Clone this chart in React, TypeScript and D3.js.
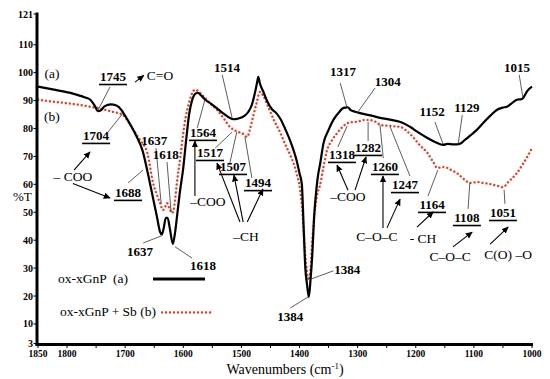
import React from "react";
import * as d3 from "d3";

const W = 550;
const H = 379;

const xTickLabels = [1850, 1800, 1700, 1600, 1500, 1400, 1300, 1200, 1100, 1000];
const xMinorTicks = [1750, 1650, 1550, 1450, 1350, 1250, 1150, 1050];
const yTickLabels = [3, 10, 20, 30, 40, 50, 60, 70, 80, 90, 100, 110, 121];

// ox-xGnP (a): [wavenumber, %T]
const seriesA: [number, number][] = [
  [1850, 95], [1820, 93.8], [1790, 92.5], [1770, 91.2], [1760, 90.3], [1752, 88], [1747, 86.2],
  [1742, 86.5], [1735, 88], [1725, 88.6], [1715, 88.2], [1706, 86.5], [1700, 84.5], [1690, 81],
  [1680, 77], [1670, 72], [1660, 63], [1652, 55], [1645, 48], [1640, 43], [1637, 42], [1634, 44],
  [1630, 48], [1627, 48], [1623, 44], [1618, 38.7], [1614, 43], [1610, 50], [1606, 57], [1600, 66],
  [1595, 76], [1590, 85], [1585, 90], [1579, 92.5], [1575, 92.8], [1570, 92], [1562, 90.3],
  [1552, 88.8], [1542, 87.2], [1530, 85.2], [1520, 83.8], [1514, 83.3], [1505, 83.6], [1495, 84.5],
  [1488, 86], [1482, 88.5], [1477, 92.5], [1473, 96.5], [1471, 98.5], [1468, 96], [1463, 93.5],
  [1455, 89.5], [1447, 86.8], [1440, 85.5], [1433, 83.5], [1425, 80], [1415, 75], [1405, 68.5],
  [1400, 64], [1396, 60], [1393, 45], [1390, 30], [1387, 24], [1384, 19.7], [1381, 26], [1378, 35],
  [1375, 48], [1372, 56], [1369, 62], [1364, 68], [1359, 74.5], [1350, 79.5], [1342, 83],
  [1332, 85.8], [1325, 87.3], [1320, 87.5], [1317, 87.6], [1312, 86.6], [1304, 86], [1296, 85.5],
  [1280, 84.8], [1261, 83.8], [1240, 83], [1222, 82], [1210, 80.6], [1195, 78.5], [1180, 76.6],
  [1165, 75], [1153, 74.1], [1145, 74.5], [1135, 74.3], [1129, 74.3], [1124, 74.5], [1115, 76],
  [1106, 77.5], [1095, 79.5], [1084, 82], [1072, 84.5], [1060, 86.7], [1050, 87.5], [1043, 87.8],
  [1035, 89], [1026, 90.3], [1018, 90.5], [1015, 91], [1008, 93.5], [1000, 95],
];

// ox-xGnP + Sb (b)
const seriesB: [number, number][] = [
  [1850, 90.3], [1820, 89.5], [1790, 88.8], [1760, 87.8], [1740, 87], [1726, 86.2], [1712, 85.5],
  [1704, 84.9], [1695, 82.5], [1686, 79.5], [1675, 76], [1662, 71.3], [1652, 60.5], [1645, 56],
  [1640, 53.3], [1635, 50.8], [1631, 52], [1628, 53.3], [1624, 51.5], [1619, 49.7], [1615, 53],
  [1611, 60.5], [1605, 70], [1600, 78.4], [1596, 84], [1592, 87.8], [1586, 92], [1580, 93.9],
  [1575, 93.5], [1569, 92.3], [1563, 91], [1553, 88.8], [1542, 86.7], [1530, 83.5], [1520, 80.6],
  [1513, 79.5], [1506, 78.8], [1498, 78.2], [1490, 77], [1485, 80], [1480, 84.2], [1474, 89],
  [1468, 93.1], [1462, 91.5], [1454, 87.8], [1444, 83], [1433, 78.4], [1425, 74.5], [1415, 70],
  [1405, 64], [1399, 58], [1395, 50], [1392, 40], [1389, 32], [1386, 27], [1384, 25.7], [1381, 30],
  [1378, 40], [1374, 50], [1370, 56], [1365, 59.5], [1359, 66], [1353, 72], [1345, 75.5],
  [1335, 78.4], [1322, 81.3], [1310, 82.3], [1301, 82.4], [1290, 83], [1279, 83], [1270, 82.5],
  [1261, 81.3], [1250, 81], [1238, 80.8], [1227, 80.6], [1215, 79], [1205, 77], [1193, 74],
  [1180, 71.3], [1170, 68], [1163, 65.9], [1154, 66.2], [1146, 65.9], [1138, 65], [1129, 64],
  [1118, 62], [1106, 60.5], [1095, 60.8], [1084, 60.5], [1070, 60], [1060, 59.5], [1050, 59],
  [1040, 61], [1026, 64], [1015, 67.5], [1005, 71], [1000, 73],
];

// peak labels (bold numbers): text, wavenumber, %T (baseline), underlined
const peakLabels: { text: string; wn: number; t: number; u: boolean }[] = [
  { text: "1745", wn: 1721, t: 97.0, u: true },
  { text: "1704", wn: 1750, t: 75.9, u: true },
  { text: "1688", wn: 1695, t: 55.5, u: true },
  { text: "1637", wn: 1650, t: 74.1, u: false },
  { text: "1618", wn: 1630, t: 69.1, u: false },
  { text: "1637", wn: 1674.5, t: 34.3, u: false },
  { text: "1618", wn: 1566, t: 29.3, u: false },
  { text: "1564", wn: 1566, t: 77.0, u: true },
  { text: "1517", wn: 1554, t: 69.8, u: true },
  { text: "1507", wn: 1514.5, t: 64.8, u: true },
  { text: "1494", wn: 1471.5, t: 59.0, u: true },
  { text: "1514", wn: 1525, t: 100.2, u: false },
  { text: "1317", wn: 1325, t: 98.8, u: false },
  { text: "1304", wn: 1248, t: 95.2, u: false },
  { text: "1152", wn: 1172, t: 84.5, u: false },
  { text: "1129", wn: 1112, t: 85.9, u: false },
  { text: "1015", wn: 1026, t: 100.2, u: false },
  { text: "1318", wn: 1327, t: 69.1, u: true },
  { text: "1282", wn: 1282, t: 71.6, u: true },
  { text: "1260", wn: 1253, t: 64.8, u: true },
  { text: "1247", wn: 1218.6, t: 58.3, u: true },
  { text: "1164", wn: 1172, t: 51.2, u: true },
  { text: "1108", wn: 1112, t: 46.5, u: true },
  { text: "1051", wn: 1050, t: 48.3, u: true },
  { text: "1384", wn: 1318, t: 27.9, u: false },
  { text: "1384", wn: 1416, t: 11.1, u: false },
];

// group / assignment labels (regular)
const groupLabels: { text: string; wn: number; t: number }[] = [
  { text: "(a)", wn: 1826, t: 98.1 },
  { text: "(b)", wn: 1826, t: 82.7 },
  { text: "C=O", wn: 1640, t: 97.4 },
  { text: "\u2013 COO", wn: 1790, t: 61.2 },
  { text: "\u2013COO", wn: 1557.5, t: 52.2 },
  { text: "\u2013CH", wn: 1492, t: 39.7 },
  { text: "\u2013COO", wn: 1316.6, t: 54.0 },
  { text: "C\u2013O\u2013C", wn: 1267, t: 39.7 },
  { text: "- CH", wn: 1187.5, t: 39.0 },
  { text: "C\u2013O\u2013C", wn: 1141, t: 32.5 },
  { text: "C(O) \u2013O", wn: 1041, t: 33.3 },
];

// leader lines: [wn1, t1, wn2, t2]
const leaders: [number, number, number, number][] = [
  [1748.5, 85.9, 1726, 94.9],
  [1703.7, 85.5, 1729.6, 78.7],
  [1695, 60.5, 1669.3, 65.1],
  [1647, 73, 1638, 53],
  [1628, 68, 1621, 50],
  [1669, 39, 1638, 41.5],
  [1614, 37.6, 1585, 33.6],
  [1576, 80.2, 1563, 90.2],
  [1545, 73, 1516, 78.7],
  [1520, 67.6, 1508, 78.7],
  [1482, 62.3, 1494, 77],
  [1533, 99.2, 1516, 83.8],
  [1330, 96.3, 1318, 87.3],
  [1270, 94.5, 1301, 85.5],
  [1167, 82.3, 1153, 74.4],
  [1120, 84.8, 1127, 74.4],
  [1022, 99.2, 1015.5, 90.9],
  [1334, 73.4, 1318, 80.9],
  [1282, 75.5, 1282, 82.3],
  [1256, 69.4, 1261.5, 81.2],
  [1210, 63, 1244, 80.5],
  [1179, 55.8, 1162, 65.1],
  [1110, 51.2, 1107, 60.5],
  [1046.5, 53, 1048, 58],
  [1342, 29, 1380, 26.1],
  [1416, 15.7, 1385, 19.7],
];

// arrows: [wn1, t1, wn2 (head), t2 (head)]
const arrows: [number, number, number, number][] = [
  [1683, 96.6, 1668, 99.0],
  [1788, 65.1, 1760.5, 71.6],
  [1790, 60.3, 1726, 55.1],
  [1580, 55.8, 1580, 75.5],
  [1502.5, 46.5, 1542, 67.6],
  [1497, 46.5, 1512.8, 63.3],
  [1490, 46.5, 1463, 58.3],
  [1316.6, 57.9, 1335.5, 66.9],
  [1304.5, 57.9, 1285.6, 69.8],
  [1256.4, 44.4, 1256.4, 63],
  [1249.5, 44.4, 1227, 54.7],
  [1198, 44.7, 1170, 50.1],
  [1136, 37.6, 1103, 42.9],
  [1072, 38.6, 1041, 44.7],
];

const legendLabels = ["ox-xGnP  (a)", "ox-xGnP + Sb (b)"];

const FONT = "'Liberation Serif', 'Times New Roman', serif";
const DOT_COLOR = "#ad5633";
const HALO = "#fde8ee";

export default function App() {
  const x = d3.scaleLinear().domain([1850, 1000]).range([38, 532]);
  const y = d3.scaleLinear().domain([3, 121]).range([343.5, 14]);

  const line = d3
    .line<[number, number]>()
    .x((d) => x(d[0]))
    .y((d) => y(d[1]))
    .curve(d3.curveMonotoneX);

  const dPathB = line(seriesB) || "";

  return (
    <svg
      width={W}
      height={H}
      style={{ position: "absolute", left: 0, top: 0, background: "#fff" }}
      fontFamily={FONT}
    >
      <defs>
        <marker
          id="ah"
          viewBox="0 0 10 10"
          refX="9"
          refY="5"
          markerWidth="7"
          markerHeight="7"
          markerUnits="userSpaceOnUse"
          orient="auto"
        >
          <path d="M0,0.5 L10,5 L0,9.5 z" fill="#000" />
        </marker>
      </defs>
      <rect x={0} y={0} width={W} height={H} fill="#fff" />

      {/* curves */}
      <path d={dPathB} fill="none" stroke={HALO} strokeWidth={4.5} strokeLinejoin="round" opacity={0.6} />
      <path
        d={dPathB}
        fill="none"
        stroke={DOT_COLOR}
        strokeWidth={2.3}
        strokeDasharray="0.1 3.9"
        strokeLinecap="round"
      />
      <path d={line(seriesA) || ""} fill="none" stroke="#000" strokeWidth={2.2} strokeLinejoin="round" />

      {/* axes */}
      <line x1={37} y1={12.5} x2={37} y2={345.5} stroke="#000" strokeWidth={3} />
      <line x1={35.5} y1={344.5} x2={533} y2={344.5} stroke="#000" strokeWidth={3} />
      {yTickLabels.map((v) => (
        <g key={"y" + v}>
          <line x1={33.5} x2={37} y1={y(v)} y2={y(v)} stroke="#000" strokeWidth={1} />
          <text x={33} y={y(v) + 3.5} textAnchor="end" fontSize={10} fontWeight="bold">
            {v}
          </text>
        </g>
      ))}
      {xTickLabels.concat(xMinorTicks).map((v) => (
        <line key={"xt" + v} x1={x(v)} x2={x(v)} y1={344.5} y2={348} stroke="#000" strokeWidth={1} />
      ))}
      {xTickLabels.map((v) => (
        <text key={"x" + v} x={x(v)} y={357} textAnchor="middle" fontSize={9.5} fontWeight="bold">
          {v}
        </text>
      ))}
      <text x={13} y={201} fontSize={13}>
        %T
      </text>
      <text x={285} y={374} textAnchor="middle" fontSize={14}>
        Wavenumbers (cm
        <tspan dy={-5} fontSize={9}>
          -1
        </tspan>
        <tspan dy={5}>)</tspan>
      </text>

      {/* leader lines */}
      {leaders.map((l, i) => (
        <line
          key={"ld" + i}
          x1={x(l[0])}
          y1={y(l[1])}
          x2={x(l[2])}
          y2={y(l[3])}
          stroke="#333"
          strokeWidth={0.8}
        />
      ))}
      {/* arrows */}
      {arrows.map((l, i) => (
        <line
          key={"ar" + i}
          x1={x(l[0])}
          y1={y(l[1])}
          x2={x(l[2])}
          y2={y(l[3])}
          stroke="#000"
          strokeWidth={1.1}
          markerEnd="url(#ah)"
        />
      ))}

      {/* peak labels */}
      {peakLabels.map((p, i) => (
        <g key={"pk" + i}>
          <text x={x(p.wn)} y={y(p.t)} textAnchor="middle" fontSize={13} fontWeight="bold">
            {p.text}
          </text>
          {p.u && (
            <line
              x1={x(p.wn) - 14}
              x2={x(p.wn) + 14}
              y1={y(p.t) + 3.5}
              y2={y(p.t) + 3.5}
              stroke="#000"
              strokeWidth={1.6}
            />
          )}
        </g>
      ))}
      {groupLabels.map((g, i) => (
        <text
          key={"gl" + i}
          x={x(g.wn)}
          y={y(g.t)}
          textAnchor="middle"
          fontSize={13.5}
          style={{ whiteSpace: "pre" }}
        >
          {g.text}
        </text>
      ))}

      {/* legend */}
      <text x={58} y={283} fontSize={13.5} style={{ whiteSpace: "pre" }}>
        {legendLabels[0]}
      </text>
      <line x1={153} x2={205} y1={279} y2={279} stroke="#000" strokeWidth={3} />
      <text x={60} y={316} fontSize={13.5} style={{ whiteSpace: "pre" }}>
        {legendLabels[1]}
      </text>
      <line x1={162} x2={213} y1={312.5} y2={312.5} stroke={HALO} strokeWidth={4.5} opacity={0.6} />
      <line
        x1={162}
        x2={213}
        y1={312.5}
        y2={312.5}
        stroke={DOT_COLOR}
        strokeWidth={2.3}
        strokeDasharray="0.1 3.9"
        strokeLinecap="round"
      />
    </svg>
  );
}
